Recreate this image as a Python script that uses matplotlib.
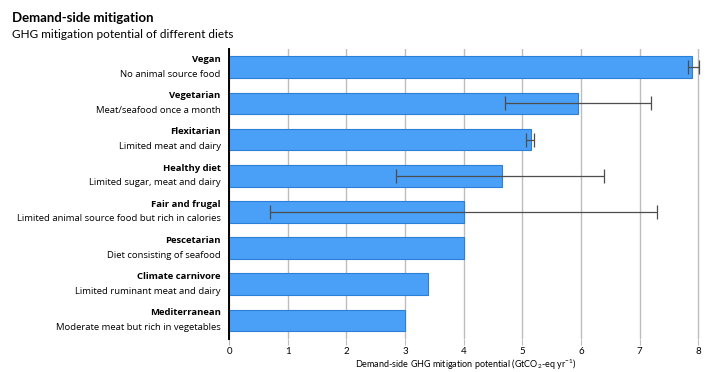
import numpy as np
import matplotlib.pyplot as plt

plt.rcParams['font.family'] = ['Lato', 'DejaVu Sans']
plt.rcParams['mathtext.fontset'] = 'custom'
plt.rcParams['mathtext.rm'] = 'Lato'

diets = ["Vegan", "Vegetarian", "Flexitarian", "Healthy diet", "Fair and frugal",
         "Pescetarian", "Climate carnivore", "Mediterranean"]
notes = ["No animal source food", "Meat/seafood once a month", "Limited meat and dairy",
         "Limited sugar, meat and dairy", "Limited animal source food but rich in calories",
         "Diet consisting of seafood", "Limited ruminant meat and dairy",
         "Moderate meat but rich in vegetables"]
potential = [7.9, 5.95, 5.15, 4.65, 4.0, 4.0, 3.4, 3.0]
err_low = [7.82, 4.7, 5.06, 2.85, 0.7, np.nan, np.nan, np.nan]
err_high = [8.02, 7.2, 5.2, 6.4, 7.3, np.nan, np.nan, np.nan]
xticks = [0, 1, 2, 3, 4, 5, 6, 7, 8]

fig = plt.figure(figsize=(7.09, 3.72), dpi=100)
ax = fig.add_axes([0.323, 0.09, 0.666, 0.778])

y = np.arange(len(diets))[::-1]
val = np.array(potential)
lo = np.array(err_low)
hi = np.array(err_high)

ax.barh(y, val, height=0.6, color='#4aa0f7', edgecolor='#2b7fd6', linewidth=0.8, zorder=2)
has = ~np.isnan(lo)
# error bar centre sits at the mid of the range, drawn from low to high
mid = (lo[has] + hi[has]) / 2
ax.errorbar(mid, y[has], xerr=[mid - lo[has], hi[has] - mid], fmt='none',
            ecolor='#4d4d4d', elinewidth=0.9, capsize=5, capthick=0.9, zorder=3)

ax.set_xlim(0, 8.05)
ax.set_ylim(-0.5, 7.5)
ax.set_xticks(xticks)
ax.set_yticks([])
ax.grid(axis='x', color='#bdbdbd', linewidth=1, zorder=0)
ax.set_axisbelow(True)
for s in ['top', 'right', 'bottom']:
    ax.spines[s].set_visible(False)
ax.spines['left'].set_linewidth(1.4)
ax.tick_params(axis='x', length=4, color='#bdbdbd', labelsize=7, pad=2)

lab_font = ['Open Sans', 'DejaVu Sans']
for yi, name, note in zip(y, diets, notes):
    ax.annotate(name, xy=(0, yi), xycoords=('axes fraction', 'data'), xytext=(-6, 5.5),
                textcoords='offset points', ha='right', va='center', fontsize=6.8,
                fontweight='bold', family=lab_font)
    ax.annotate(note, xy=(0, yi), xycoords=('axes fraction', 'data'), xytext=(-6, -5),
                textcoords='offset points', ha='right', va='center', fontsize=6.8,
                family=lab_font)

ax.set_xlabel(r'Demand-side GHG mitigation potential (GtCO$_2$-eq yr$^{-1}$)', fontsize=6.5, labelpad=1)

fig.text(0.017, 0.952, "Demand-side mitigation", fontsize=9.5, fontweight='bold', va='center')
fig.text(0.017, 0.908, "GHG mitigation potential of different diets", fontsize=8.5, va='center')

fig.savefig('out.png', dpi=100)
